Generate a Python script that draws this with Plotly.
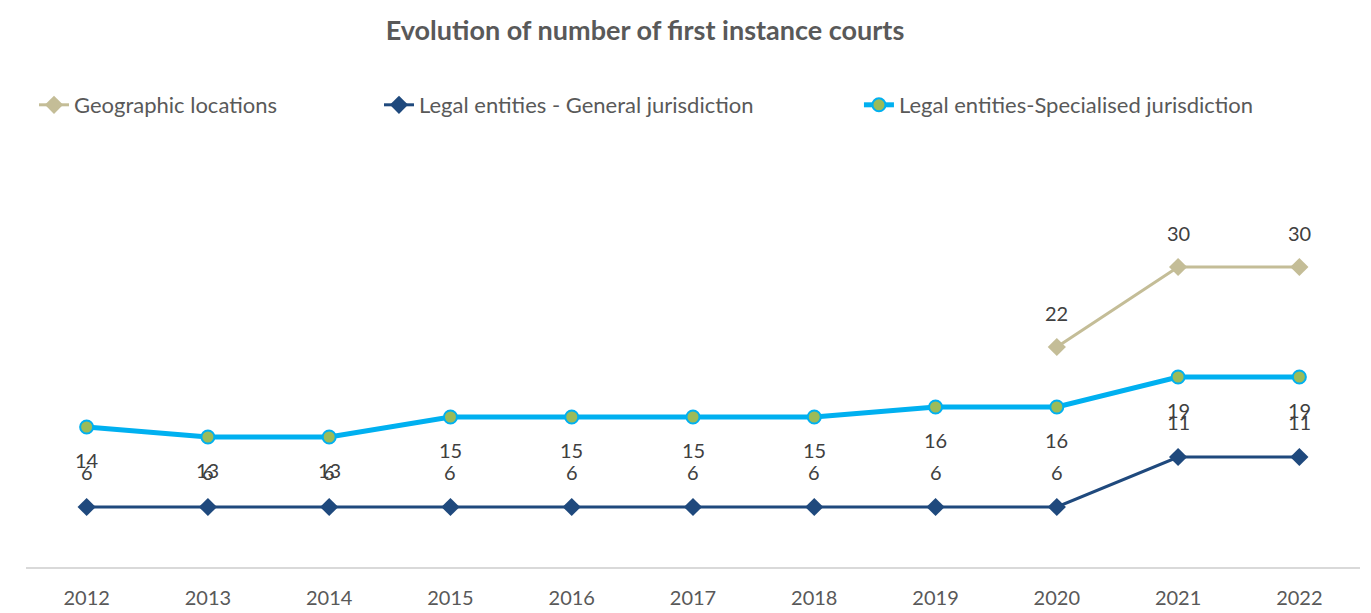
import plotly.graph_objects as go

years = ["2012", "2013", "2014", "2015", "2016", "2017", "2018", "2019", "2020", "2021", "2022"]
geographic = [None, None, None, None, None, None, None, None, 22, 30, 30]
general = [6, 6, 6, 6, 6, 6, 6, 6, 6, 11, 11]
specialised = [14, 13, 13, 15, 15, 15, 15, 16, 16, 19, 19]

FONT = "Lato"
fig = go.Figure()

fig.add_trace(go.Scatter(
    x=years, y=geographic, name="Geographic locations", mode="lines+markers",
    line=dict(color="#C4BD97", width=3),
    marker=dict(symbol="diamond", size=14, color="#C4BD97"),
    legend="legend",
))
fig.add_trace(go.Scatter(
    x=years, y=general, name="Legal entities - General jurisdiction", mode="lines+markers",
    line=dict(color="#1F497D", width=3),
    marker=dict(symbol="diamond", size=14, color="#1F497D"),
    legend="legend2",
))
fig.add_trace(go.Scatter(
    x=years, y=specialised, name="Legal entities-Specialised jurisdiction", mode="lines+markers",
    line=dict(color="#00B0F0", width=5),
    marker=dict(symbol="circle", size=13, color="#9BBB59", line=dict(color="#00B0F0", width=2)),
    legend="legend3",
))

annotations = []
for series, shift in ((geographic, 34), (general, 35), (specialised, -33)):
    for i, v in enumerate(series):
        if v is None:
            continue
        annotations.append(dict(
            x=i, y=v, xref="x", yref="y", text=str(v), showarrow=False,
            yshift=shift, font=dict(family=FONT, size=20, color="#404040"),
        ))

legend_common = dict(orientation="h", yanchor="middle", y=1.155, xanchor="left",
                     font=dict(family=FONT, size=22, color="#595959"),
                     bgcolor="rgba(0,0,0,0)", itemwidth=30)

fig.update_layout(
    width=1363, height=605,
    margin=dict(l=18, r=11, t=159, b=46, autoexpand=False),
    paper_bgcolor="white", plot_bgcolor="white",
    title=dict(text="<b>Evolution of number of first instance courts</b>",
               xref="paper", x=0.464, xanchor="center",
               yref="container", y=0.963, yanchor="middle",
               font=dict(family=FONT, size=27, color="#595959")),
    xaxis=dict(type="category", range=[-0.5, 10.5], showgrid=False, showline=True,
               linecolor="#D9D9D9", linewidth=2, ticks="", ticklabelstandoff=12,
               tickfont=dict(family=FONT, size=20, color="#595959")),
    yaxis=dict(range=[0, 40], visible=False, showgrid=False, zeroline=False),
    legend=dict(legend_common, x=0.006),
    legend2=dict(legend_common, x=0.2646),
    legend3=dict(legend_common, x=0.6244),
    annotations=annotations,
    showlegend=True,
)

fig.write_html("out.html")
